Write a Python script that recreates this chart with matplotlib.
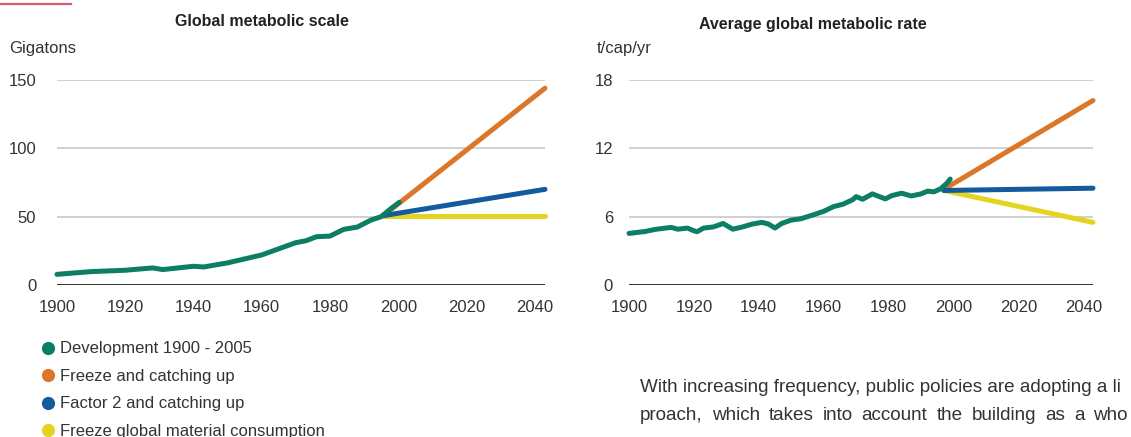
import matplotlib
matplotlib.use("Agg")
import matplotlib.pyplot as plt
from matplotlib.lines import Line2D

plt.rcParams['font.family'] = ['Liberation Sans', 'DejaVu Sans']

# Global metabolic scale (Gigatons)
hist_years_l = [1900, 1910, 1920, 1928, 1931, 1940, 1943, 1950, 1955, 1960, 1965,
                1970, 1973, 1976, 1980, 1984, 1988, 1992, 1995, 1997.7, 2000.3]
hist_vals_l = [7.8, 9.8, 10.8, 12.5, 11.3, 13.7, 13.2, 16.2, 19.1, 22.0, 26.5,
               31.0, 32.4, 35.3, 35.8, 40.7, 42.4, 47.5, 50.0, 55.6, 60.5]
scen_years_l = [1995.5, 2043]
freeze_catch_l = [50.5, 144]
factor2_l = [50.7, 70]
freeze_global_l = [50.5, 50.5]

# Average global metabolic rate (t/cap/yr)
hist_years_r = [1900, 1905, 1908, 1913, 1915, 1918, 1920, 1921, 1923, 1926, 1929,
                1932, 1935, 1938, 1941, 1943, 1945, 1947, 1950, 1953, 1957, 1960,
                1963, 1966, 1969, 1970, 1972, 1975, 1979, 1981, 1984, 1987, 1990,
                1992, 1994, 1996, 1998, 1999]
hist_vals_r = [4.53, 4.7, 4.88, 5.06, 4.9, 5.0, 4.76, 4.68, 5.0, 5.1, 5.4,
               4.9, 5.1, 5.35, 5.5, 5.35, 5.0, 5.4, 5.7, 5.82, 6.18, 6.47,
               6.88, 7.1, 7.5, 7.76, 7.53, 8.0, 7.56, 7.85, 8.06, 7.82, 8.0,
               8.24, 8.18, 8.44, 8.94, 9.3]
scen_years_r = [1997, 2043]
freeze_catch_r = [8.4, 16.2]
factor2_r = [8.3, 8.5]
freeze_global_r = [8.3, 5.5]

labels = ["Development 1900 - 2005", "Freeze and catching up",
          "Factor 2 and catching up", "Freeze global material consumption"]
colors = ["#0b7e63", "#dc7628", "#135a9e", "#e3d422"]
xticks = [1900, 1920, 1940, 1960, 1980, 2000, 2020, 2040]

para_line1 = "With increasing frequency, public policies are adopting a li"
para_line2 = "proach, which takes into account the building as a who"

fig = plt.figure(figsize=(11.31, 4.37), dpi=100)
W, H = 1131, 437

def panel(rect, yticks, hy, hv, sy, fc, f2, fg, pad):
    ax = fig.add_axes(rect)
    lw = 3.6
    ax.plot(sy, fc, color=colors[1], lw=lw, solid_capstyle='round', zorder=3, clip_on=False)
    ax.plot(sy, fg, color=colors[3], lw=lw, solid_capstyle='round', zorder=3, clip_on=False)
    ax.plot(sy, f2, color=colors[2], lw=lw, solid_capstyle='round', zorder=4, clip_on=False)
    ax.plot(hy, hv, color=colors[0], lw=lw, solid_capstyle='round',
            solid_joinstyle='round', zorder=5, clip_on=False)
    ax.set_xlim(1900, 2043)
    ax.set_ylim(yticks[0], yticks[-1])
    ax.set_xticks(xticks)
    ax.set_yticks(yticks)
    for t in yticks[1:]:
        ax.axhline(t, color="#c8c8c8", lw=1.2, zorder=1)
    ax.axhline(0, color="#222222", lw=1.3, zorder=2)
    for s in ax.spines.values():
        s.set_visible(False)
    ax.tick_params(length=0, labelsize=12, colors="#333333")
    ax.tick_params(axis='y', pad=pad)
    ax.tick_params(axis='x', pad=11)
    return ax

ax1 = panel([57 / W, 152 / H, 488 / W, 205 / H], [0, 50, 100, 150],
            hist_years_l, hist_vals_l, scen_years_l, freeze_catch_l, factor2_l,
            freeze_global_l, 15)
ax2 = panel([629 / W, 152 / H, 464 / W, 205 / H], [0, 6, 12, 18],
            hist_years_r, hist_vals_r, scen_years_r, freeze_catch_r, factor2_r,
            freeze_global_r, 11.5)

fig.text(262 / W, 1 - 21 / H, "Global metabolic scale", ha='center', va='center',
         fontsize=11.5, fontweight='bold', color="#222222")
fig.text(813 / W, 1 - 24 / H, "Average global metabolic rate", ha='center', va='center',
         fontsize=11.5, fontweight='bold', color="#222222")
fig.text(9 / W, 1 - 48 / H, "Gigatons", ha='left', va='center', fontsize=12, color="#333333")
fig.text(597 / W, 1 - 48 / H, "t/cap/yr", ha='left', va='center', fontsize=12, color="#333333")

# accent rule top left
fig.add_artist(Line2D([0, 71 / W], [1 - 4 / H, 1 - 4 / H], color="#e05571", lw=1.6))

handles = [Line2D([], [], marker='o', ls='', markersize=8.5, color=c) for c in colors]
fig.legend(handles, labels, loc='upper left', bbox_to_anchor=(30 / W, 1 - 333 / H),
           frameon=False, fontsize=12, handletextpad=0.1, labelspacing=0.75,
           borderpad=0, handlelength=1.2, labelcolor="#333333")

fig.text(640 / W, 1 - 387 / H, para_line1, ha='left', va='center', fontsize=13.6,
         color="#333333")

# second paragraph line is justified: spread the words over the same width
fig.canvas.draw()
r = fig.canvas.get_renderer()
words = para_line2.split()
ts = [fig.text(0, 1 - 416 / H, w, ha='left', va='center', fontsize=13.6, color="#333333")
      for w in words]
widths = [t.get_window_extent(r).width for t in ts]
x0, x1 = 640, 1128
gap = (x1 - x0 - sum(widths)) / (len(words) - 1)
x = x0
for t, w in zip(ts, widths):
    t.set_x(x / W)
    x += w + gap

fig.savefig("out.png", dpi=100)
